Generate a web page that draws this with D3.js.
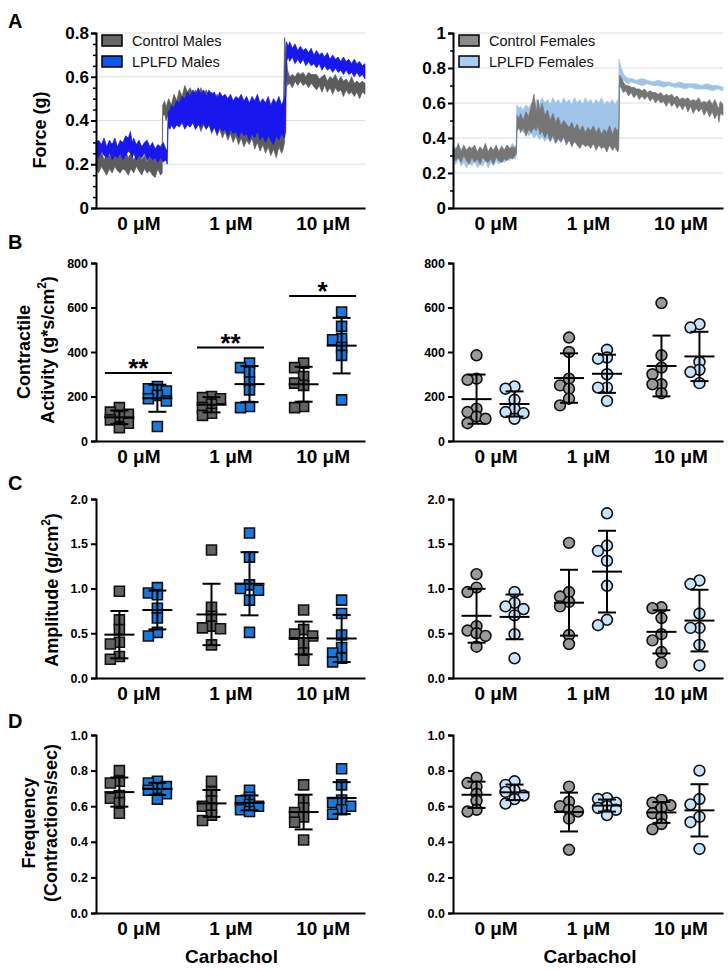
<!DOCTYPE html>
<html><head><meta charset="utf-8">
<script src="https://cdn.jsdelivr.net/npm/d3@7/dist/d3.min.js"></script>
<style>body{margin:0;background:#fff}svg{display:block}</style>
</head><body>
<svg id="fig" width="728" height="970"></svg>
<script>
// ---------------- DATA ----------------
const categories = ["0 μM", "1 μM", "10 μM"];

// Panel A force traces: [time (0-100), lower envelope, upper envelope] in g
const maleCtrlTrace = [[0,.18,.25],[1,.16,.23],[2,.19,.26],[3,.17,.22],[4,.15,.25],[5,.18,.24],[6,.16,.22],[7,.19,.26],[8,.17,.23],[9,.16,.25],[10,.18,.22],[11,.17,.26],[12,.15,.23],[13,.18,.25],[14,.16,.22],[15,.19,.24],[16,.17,.26],[17,.15,.22],[18,.18,.24],[19,.16,.21],[20,.17,.25],[21,.15,.22],[22,.14,.24],[23,.18,.23],[24,.15,.27],[24.6,.16,.25],[24.8,.42,.47],[25.5,.43,.49],[26,.40,.46],[27,.43,.50],[28,.41,.47],[29,.44,.52],[30,.40,.49],[31,.43,.54],[32,.41,.51],[33,.38,.56],[34,.42,.53],[35,.37,.55],[36,.40,.52],[37,.36,.54],[38,.39,.51],[39,.35,.55],[40,.38,.52],[41,.36,.54],[42,.39,.51],[43,.34,.53],[44,.37,.50],[45,.33,.52],[46,.36,.49],[47,.32,.51],[48,.35,.48],[49,.31,.50],[50,.34,.47],[51,.30,.49],[52,.33,.46],[53,.29,.48],[54,.32,.45],[55,.28,.47],[56,.31,.44],[57,.29,.46],[58,.32,.43],[59,.27,.45],[60,.30,.44],[61,.26,.46],[62,.29,.43],[63,.25,.45],[64,.28,.42],[65,.24,.44],[66,.27,.41],[67,.23,.45],[68,.28,.42],[69,.25,.44],[69.6,.27,.40],[70.1,.30,.78],[70.6,.60,.72],[71.2,.56,.63],[72,.57,.60],[73,.55,.61],[74,.58,.60],[75,.56,.62],[76,.58,.61],[77,.56,.62],[78,.57,.60],[79,.55,.62],[80,.57,.61],[82,.54,.61],[83,.56,.59],[84,.53,.60],[85,.56,.61],[86,.53,.58],[87,.55,.60],[88,.52,.59],[89,.55,.61],[90,.53,.58],[91,.54,.60],[92,.51,.58],[93,.54,.59],[94,.52,.57],[95,.53,.60],[96,.51,.57],[97,.53,.58],[98,.50,.57],[99,.53,.58],[100,.52,.57]];
const maleLplfdTrace = [[0,.25,.30],[1,.23,.31],[2,.26,.29],[3,.24,.32],[4,.23,.28],[5,.25,.31],[6,.22,.29],[7,.24,.32],[8,.23,.28],[9,.25,.31],[10,.22,.30],[11,.24,.33],[12,.26,.32],[12.8,.25,.35],[13.5,.23,.30],[14,.25,.32],[15,.22,.29],[16,.24,.31],[17,.23,.28],[18,.25,.30],[19,.22,.31],[20,.24,.28],[21,.22,.30],[22,.23,.27],[23,.21,.29],[24,.23,.28],[25,.21,.30],[26,.22,.27],[26.5,.20,.26],[26.8,.37,.44],[27.5,.36,.45],[28,.38,.47],[29,.36,.46],[30,.38,.49],[31,.37,.48],[32,.39,.51],[33,.36,.50],[34,.38,.53],[35,.37,.51],[36,.39,.54],[37,.36,.52],[38,.38,.55],[39,.37,.52],[40,.39,.54],[41,.36,.51],[42,.38,.54],[43,.35,.52],[44,.37,.53],[45,.34,.50],[46,.37,.53],[47,.35,.51],[48,.36,.52],[49,.33,.50],[50,.36,.52],[51,.34,.49],[52,.35,.51],[53,.32,.50],[54,.35,.52],[55,.33,.49],[56,.34,.51],[57,.31,.48],[58,.34,.51],[59,.32,.49],[60,.35,.52],[61,.31,.48],[62,.33,.50],[63,.30,.48],[64,.33,.51],[65,.31,.47],[66,.29,.50],[67,.33,.48],[68,.31,.51],[69,.34,.47],[70,.32,.50],[70.5,.35,.52],[70.8,.67,.76],[71.5,.69,.74],[72,.67,.76],[73,.69,.73],[74,.66,.75],[75,.68,.72],[76,.66,.74],[77,.68,.72],[78,.65,.73],[79,.67,.71],[80,.65,.73],[81,.66,.70],[82,.64,.72],[83,.66,.70],[84,.63,.71],[85,.65,.69],[86,.63,.71],[87,.64,.68],[88,.62,.70],[89,.64,.68],[90,.62,.69],[91,.63,.67],[92,.61,.69],[93,.63,.67],[94,.61,.68],[95,.62,.66],[96,.60,.68],[97,.62,.66],[98,.60,.67],[99,.61,.65],[100,.59,.66]];
const femaleCtrlTrace = [[0,.30,.35],[1,.27,.33],[2,.29,.37],[3,.26,.32],[4,.30,.36],[5,.27,.33],[6,.25,.35],[7,.29,.34],[8,.26,.36],[9,.28,.32],[10,.25,.35],[11,.29,.33],[12,.27,.37],[13,.26,.32],[14,.28,.35],[15,.25,.33],[16,.29,.36],[17,.27,.32],[18,.26,.35],[19,.28,.33],[20,.27,.36],[21,.29,.34],[22,.28,.35],[23,.30,.34],[23.5,.31,.36],[23.7,.44,.53],[24.5,.46,.51],[25,.43,.54],[26,.46,.50],[27,.41,.55],[28,.45,.52],[29,.43,.58],[30,.46,.65],[30.8,.44,.54],[31.5,.47,.62],[32.2,.42,.55],[33,.44,.60],[34,.40,.53],[35,.43,.56],[36,.38,.50],[37,.42,.54],[38,.37,.49],[39,.40,.52],[40,.38,.47],[41,.41,.50],[42,.36,.48],[43,.39,.46],[44,.35,.49],[45,.38,.45],[46,.36,.48],[47,.34,.44],[48,.37,.47],[49,.35,.43],[50,.36,.46],[51,.34,.44],[52,.37,.47],[53,.33,.43],[54,.36,.46],[55,.34,.42],[56,.35,.45],[57,.32,.43],[58,.36,.47],[59,.33,.42],[60,.35,.46],[61,.32,.44],[61.4,.34,.47],[61.7,.70,.76],[62.5,.68,.74],[63,.66,.72],[64,.67,.70],[65,.64,.70],[66,.66,.69],[67,.63,.69],[68,.65,.68],[69,.62,.68],[70,.64,.67],[71,.62,.68],[72,.64,.66],[73,.61,.67],[74,.63,.66],[75,.60,.66],[76,.62,.65],[77,.60,.66],[78,.61,.64],[79,.58,.65],[80,.61,.64],[81,.58,.65],[82,.60,.63],[83,.57,.64],[84,.59,.62],[85,.56,.63],[86,.59,.62],[87,.55,.63],[88,.58,.61],[89,.54,.62],[90,.57,.61],[91,.55,.63],[92,.57,.60],[93,.53,.61],[94,.56,.60],[95,.52,.62],[96,.55,.59],[97,.51,.62],[98,.54,.58],[98.5,.49,.57],[99,.54,.61],[100,.53,.59]];
const femaleLplfdTrace = [[0,.27,.33],[1,.25,.35],[2,.28,.32],[3,.24,.34],[4,.26,.31],[5,.23,.33],[6,.26,.35],[7,.24,.31],[8,.27,.34],[9,.23,.32],[10,.25,.35],[11,.24,.31],[12,.27,.34],[13,.23,.32],[14,.26,.35],[15,.24,.31],[16,.27,.34],[17,.25,.33],[18,.27,.36],[19,.26,.33],[20,.28,.36],[21,.27,.34],[22,.29,.37],[23,.28,.35],[23.4,.29,.36],[23.6,.47,.59],[24.5,.45,.57],[25,.46,.58],[26,.43,.56],[27,.44,.59],[28,.41,.57],[29,.43,.60],[30,.40,.58],[31,.42,.62],[32,.39,.59],[33,.41,.63],[34,.38,.60],[35,.40,.62],[36,.38,.59],[37,.40,.63],[38,.37,.60],[39,.39,.62],[40,.37,.59],[41,.40,.63],[42,.37,.60],[43,.39,.62],[44,.36,.59],[45,.39,.63],[46,.37,.60],[47,.38,.62],[48,.36,.59],[49,.38,.63],[50,.37,.60],[51,.39,.62],[52,.36,.59],[53,.38,.62],[54,.37,.60],[55,.38,.63],[56,.36,.59],[57,.38,.61],[58,.37,.60],[59,.39,.62],[60,.38,.59],[61,.40,.62],[61.3,.41,.60],[61.5,.70,.85],[62.3,.74,.80],[63,.73,.77],[64,.72,.75],[65,.71,.74],[66,.72,.74],[68,.71,.73],[70,.70,.74],[72,.71,.73],[74,.70,.72],[76,.70,.73],[78,.69,.72],[80,.70,.72],[82,.69,.71],[84,.69,.72],[86,.68,.71],[88,.69,.71],[90,.68,.71],[92,.68,.70],[94,.68,.71],[96,.67,.70],[98,.68,.70],[100,.67,.69]];
const maleLegend = ["Control Males", "LPLFD Males"];
const femaleLegend = ["Control Females", "LPLFD Females"];

// Panel B: contractile activity (g*s/cm2), one array per carbachol dose
const activityMaleCtrl = [[150,130,120,110,95,80,60],[200,195,190,165,150,125,115],[350,330,290,260,250,155,150]];
const activityMaleLplfd = [[245,235,225,205,190,180,65],[350,330,310,265,230,155,150],[580,515,460,455,420,385,185]];
const activityFemaleCtrl = [[385,280,275,145,130,110,100,80],[465,400,280,250,235,190,160],[620,385,330,300,255,255,215]];
const activityFemaleLplfd = [[245,235,185,145,130,125,100],[410,375,370,300,240,240,180],[525,510,355,320,310,260]];
const activitySig = [{cat:"0 μM", value:306, label:"**"},{cat:"1 μM", value:420, label:"**"},{cat:"10 μM", value:652, label:"*"}];

// Panel C: amplitude (g/cm2)
const ampMaleCtrl = [[0.97,0.65,0.54,0.40,0.38,0.24,0.21],[1.43,0.79,0.69,0.58,0.56,0.55,0.37],[0.76,0.54,0.49,0.47,0.39,0.28,0.20]];
const ampMaleLplfd = [[1.01,0.95,0.93,0.78,0.67,0.51,0.47],[1.62,1.35,1.04,1.00,0.98,0.87,0.51],[0.87,0.72,0.48,0.34,0.28,0.22,0.18]];
const ampFemaleCtrl = [[1.16,1.01,0.96,0.58,0.53,0.50,0.47,0.35],[1.51,0.96,0.91,0.85,0.80,0.48,0.38],[0.79,0.78,0.67,0.49,0.42,0.29,0.17]];
const ampFemaleLplfd = [[0.96,0.84,0.80,0.77,0.70,0.49,0.22],[1.84,1.48,1.42,1.31,1.03,0.65,0.59],[1.09,1.05,0.72,0.56,0.56,0.37,0.14]];

// Panel D: frequency (contractions/sec)
const freqMaleCtrl = [[0.80,0.74,0.73,0.66,0.645,0.62,0.56],[0.74,0.68,0.63,0.60,0.59,0.55,0.52],[0.72,0.635,0.59,0.565,0.54,0.51,0.41]];
const freqMaleLplfd = [[0.74,0.73,0.71,0.70,0.69,0.67,0.64],[0.69,0.65,0.63,0.61,0.60,0.58,0.57],[0.81,0.72,0.635,0.62,0.60,0.58,0.555]];
const freqFemaleCtrl = [[0.76,0.73,0.71,0.67,0.63,0.58,0.57],[0.71,0.625,0.60,0.58,0.57,0.53,0.355],[0.635,0.62,0.605,0.59,0.56,0.54,0.50,0.47]];
const freqFemaleLplfd = [[0.74,0.72,0.69,0.68,0.66,0.64,0.615],[0.645,0.64,0.62,0.60,0.59,0.58,0.55],[0.80,0.64,0.61,0.54,0.51,0.36]];

// ---------------- LAYOUT / STYLE ----------------
const FONT = '"Liberation Sans", Arial, Helvetica, sans-serif';
const svg = d3.select("#fig").attr("font-family", FONT);
const cols = { L: {x0: 96, x1: 365}, R: {x0: 453, x1: 723} };
const rows = { A: {b: 208, t: 33}, B: {b: 441, t: 263}, C: {b: 678, t: 499}, D: {b: 913, t: 735} };
const colors = {
  maleCtrlTrace: "#5c5c5c", maleLplfdTrace: "#1818ee",
  femaleCtrlTrace: "#767676", femaleLplfdTrace: "#9fc4e8",
  maleCtrlSw: "#666666", maleLplfdSw: "#0f55f0", femaleCtrlSw: "#8a8a8a", femaleLplfdSw: "#a9cdef",
  maleCtrl: "#636363", maleLplfd: "#1c78dc", femaleCtrl: "#9a9a9a", femaleLplfd: "#c8e4fa"
};

function catScale(col) {
  return d3.scalePoint().domain(categories).range([col.x0, col.x1]).padding(0.46);
}

function styleAxis(a, fs) {
  a.select(".domain").attr("stroke", "#000").attr("stroke-width", 2);
  a.selectAll(".tick line").attr("stroke", "#000").attr("stroke-width", 2);
  a.selectAll("text").attr("fill", "#000").attr("font-size", fs).attr("font-weight", "bold").attr("font-family", FONT);
}

function xAxis(col, row) {
  const a = svg.append("g").attr("transform", `translate(0,${row.b})`)
    .call(d3.axisBottom(catScale(col)).tickSize(0).tickPadding(8.5));
  styleAxis(a, 19);
}

function yAxis(col, y, ticks, fmt, fs, size, pad) {
  const a = svg.append("g").attr("transform", `translate(${col.x0},0)`)
    .call(d3.axisLeft(y).tickValues(ticks).tickFormat(fmt).tickSize(size).tickPadding(pad));
  styleAxis(a, fs);
  return a;
}

function yTitle(x, cy, parts) {
  const t = svg.append("text").attr("transform", `translate(${x},${cy}) rotate(-90)`)
    .attr("text-anchor", "middle").attr("font-size", 18).attr("font-weight", "bold").attr("fill", "#000");
  parts.forEach(p => {
    const ts = t.append("tspan").text(p.text);
    if (p.sup) ts.attr("font-size", 12).attr("dy", -8);
    if (p.after) ts.attr("dy", 8);
  });
}

function panelLetter(txt, y) {
  svg.append("text").attr("x", 8).attr("y", y).attr("font-size", 20).attr("font-weight", "bold").text(txt);
}

// ---------- Panel A: traces ----------
function tracePanel(col, yMax, majors, minors, traces, legend) {
  const row = rows.A;
  const x = d3.scaleLinear().domain([0, 100]).range([col.x0, col.x1]);
  const y = d3.scaleLinear().domain([0, yMax]).range([row.b, row.t]);
  svg.append("g").selectAll("line").data(majors.filter(v => v > 0)).join("line")
    .attr("x1", col.x0).attr("x2", col.x1).attr("y1", d => y(d)).attr("y2", d => y(d))
    .attr("stroke", "#dedede").attr("stroke-width", 1);
  const area = d3.area().x(d => x(d[0])).y0(d => y(d[1])).y1(d => y(d[2]));
  traces.forEach(tr => {
    svg.append("path").datum(tr.data).attr("d", area)
      .attr("fill", tr.color).attr("stroke", tr.color).attr("stroke-width", 0.7).attr("stroke-linejoin", "miter");
  });
  const m = svg.append("g").attr("transform", `translate(${col.x0},0)`)
    .call(d3.axisLeft(y).tickValues(minors).tickFormat("").tickSize(3));
  m.select(".domain").remove();
  m.selectAll(".tick line").attr("stroke", "#000").attr("stroke-width", 1.5);
  yAxis(col, y, majors, d => d === 0 ? "0" : (d === 1 ? "1" : d3.format(".1f")(d)), 17, 5, 2);
  xAxis(col, row);
  const lg = svg.append("g");
  legend.forEach((l, i) => {
    const yy = 35 + i * 21;
    lg.append("rect").attr("x", col.x0 + 6).attr("y", yy).attr("width", 20).attr("height", 11)
      .attr("fill", l.fill).attr("stroke", "#000").attr("stroke-width", 1.5);
    lg.append("text").attr("x", col.x0 + 36).attr("y", yy + 10.5).attr("font-size", 14.5).attr("fill", "#111").text(l.label);
  });
}

tracePanel(cols.L, 0.8, [0, 0.2, 0.4, 0.6, 0.8],
  d3.range(1, 16).map(i => i * 0.05).filter((v, i) => (i + 1) % 4 !== 0),
  [{data: maleCtrlTrace, color: colors.maleCtrlTrace}, {data: maleLplfdTrace, color: colors.maleLplfdTrace}],
  [{label: maleLegend[0], fill: colors.maleCtrlSw}, {label: maleLegend[1], fill: colors.maleLplfdSw}]);
tracePanel(cols.R, 1, [0, 0.2, 0.4, 0.6, 0.8, 1],
  [0.1, 0.3, 0.5, 0.7, 0.9],
  [{data: femaleLplfdTrace, color: colors.femaleLplfdTrace}, {data: femaleCtrlTrace, color: colors.femaleCtrlTrace}],
  [{label: femaleLegend[0], fill: colors.femaleCtrlSw}, {label: femaleLegend[1], fill: colors.femaleLplfdSw}]);

// ---------- Scatter panels ----------
function swarm(vals, y, cx) {
  const order = vals.map((v, i) => i).sort((a, b) => vals[b] - vals[a]);
  const placed = [];
  const xs = new Array(vals.length);
  const step = 9, minDx = 9, minDy = 7;
  order.forEach(i => {
    const py = y(vals[i]);
    let best = null, bestScore = -Infinity;
    for (const k of [0, -1, 1, -2, 2]) {
      const px = cx + k * step;
      let ok = true, score = Infinity;
      placed.forEach(p => {
        const dx = Math.abs(p.x - px), dy = Math.abs(p.y - py);
        if (dx < minDx && dy < minDy) ok = false;
        score = Math.min(score, Math.hypot(dx, dy));
      });
      if (ok) { best = px; break; }
      if (score > bestScore) { bestScore = score; best = px; }
    }
    xs[i] = best;
    placed.push({x: best, y: py});
  });
  return xs;
}

function scatterPanel(col, row, yMax, ticks, fmt, groups, shape) {
  const xc = catScale(col);
  const y = d3.scaleLinear().domain([0, yMax]).range([row.b, row.t]);
  const sym = shape === "square" ? d3.symbol(d3.symbolSquare, 100) : d3.symbol(d3.symbolCircle, 92);
  groups.forEach(gp => {
    categories.forEach((c, ci) => {
      const vals = gp.values[ci];
      const cx = xc(c) + gp.offset;
      const xs = swarm(vals, y, cx);
      const g = svg.append("g");
      g.selectAll("path").data(vals).join("path")
        .attr("d", sym).attr("transform", (d, i) => `translate(${xs[i]},${y(d)})`)
        .attr("fill", gp.fill).attr("stroke", "#111").attr("stroke-width", 1.6);
      const mean = d3.mean(vals), sd = d3.deviation(vals);
      const e = svg.append("g").attr("stroke", "#000").attr("stroke-width", 2);
      e.append("line").attr("x1", cx).attr("x2", cx).attr("y1", y(mean - sd)).attr("y2", y(mean + sd));
      e.append("line").attr("x1", cx - 9).attr("x2", cx + 9).attr("y1", y(mean - sd)).attr("y2", y(mean - sd));
      e.append("line").attr("x1", cx - 9).attr("x2", cx + 9).attr("y1", y(mean + sd)).attr("y2", y(mean + sd));
      e.append("line").attr("x1", cx - 15).attr("x2", cx + 15).attr("y1", y(mean)).attr("y2", y(mean));
    });
  });
  yAxis(col, y, ticks, fmt, 12.5, 5, 3);
  xAxis(col, row);
  return {xc, y};
}

const f1 = d3.format(".1f");
const bL = scatterPanel(cols.L, rows.B, 800, [0, 200, 400, 600, 800], d3.format("d"),
  [{values: activityMaleCtrl, fill: colors.maleCtrl, offset: -19}, {values: activityMaleLplfd, fill: colors.maleLplfd, offset: 19}], "square");
scatterPanel(cols.R, rows.B, 800, [0, 200, 400, 600, 800], d3.format("d"),
  [{values: activityFemaleCtrl, fill: colors.femaleCtrl, offset: -19}, {values: activityFemaleLplfd, fill: colors.femaleLplfd, offset: 19}], "circle");
const sg = svg.append("g");
activitySig.forEach(s => {
  const cx = bL.xc(s.cat), yy = bL.y(s.value);
  sg.append("line").attr("x1", cx - 33.5).attr("x2", cx + 33.5).attr("y1", yy).attr("y2", yy)
    .attr("stroke", "#000").attr("stroke-width", 2);
  sg.append("text").attr("x", cx).attr("y", yy + 4).attr("text-anchor", "middle")
    .attr("font-size", 26).attr("font-weight", "bold").text(s.label);
});
scatterPanel(cols.L, rows.C, 2, [0, 0.5, 1, 1.5, 2], f1,
  [{values: ampMaleCtrl, fill: colors.maleCtrl, offset: -19}, {values: ampMaleLplfd, fill: colors.maleLplfd, offset: 19}], "square");
scatterPanel(cols.R, rows.C, 2, [0, 0.5, 1, 1.5, 2], f1,
  [{values: ampFemaleCtrl, fill: colors.femaleCtrl, offset: -19}, {values: ampFemaleLplfd, fill: colors.femaleLplfd, offset: 19}], "circle");
scatterPanel(cols.L, rows.D, 1, [0, 0.2, 0.4, 0.6, 0.8, 1], f1,
  [{values: freqMaleCtrl, fill: colors.maleCtrl, offset: -19}, {values: freqMaleLplfd, fill: colors.maleLplfd, offset: 19}], "square");
scatterPanel(cols.R, rows.D, 1, [0, 0.2, 0.4, 0.6, 0.8, 1], f1,
  [{values: freqFemaleCtrl, fill: colors.femaleCtrl, offset: -19}, {values: freqFemaleLplfd, fill: colors.femaleLplfd, offset: 19}], "circle");

// ---------- Titles ----------
yTitle(46, 130, [{text: "Force (g)"}]);
yTitle(30, 352, [{text: "Contractile"}]);
yTitle(54, 350, [{text: "Activity (g*s/cm"}, {text: "2", sup: true}, {text: ")", after: true}]);
yTitle(58, 590, [{text: "Amplitude (g/cm"}, {text: "2", sup: true}, {text: ")", after: true}]);
yTitle(35, 823, [{text: "Frequency"}]);
yTitle(57, 823, [{text: "(Contractions/sec)"}]);

svg.append("text").attr("x", (cols.L.x0 + cols.L.x1) / 2 + 1).attr("y", 963).attr("text-anchor", "middle")
  .attr("font-size", 19).attr("font-weight", "bold").text("Carbachol");
svg.append("text").attr("x", (cols.R.x0 + cols.R.x1) / 2 + 2).attr("y", 963).attr("text-anchor", "middle")
  .attr("font-size", 19).attr("font-weight", "bold").text("Carbachol");

panelLetter("A", 28);
panelLetter("B", 249);
panelLetter("C", 490);
panelLetter("D", 728);
</script>
</body></html>
